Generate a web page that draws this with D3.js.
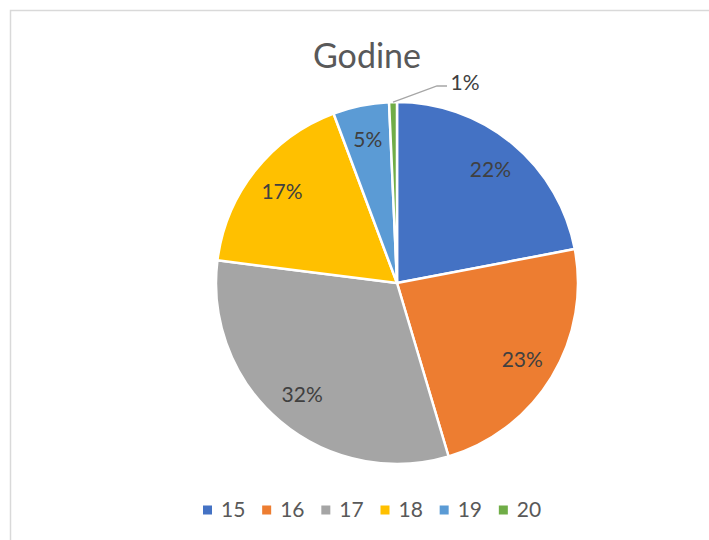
<!DOCTYPE html>
<html>
<head>
<meta charset="utf-8">
<script src="https://cdn.jsdelivr.net/npm/d3@7"></script>
<style>
  body { margin: 0; background: #fff; }
  text { font-family: Lato, "Open Sans", sans-serif; }
</style>
</head>
<body>
<div id="chart"></div>
<script>
var categories = ["15", "16", "17", "18", "19", "20"];
var values = [22.0, 23.4, 31.6, 17.3, 5.0, 0.7];
var colors = ["#4472c4", "#ed7d31", "#a5a5a5", "#ffc000", "#5b9bd5", "#70ad47"];

function init(){
    var w = 709;
    var h = 540;
    var cx = 397, cy = 283, r = 181;

    var svg = d3.select("#chart")
      .append("svg")
      .attr("width", w)
      .attr("height", h);

    // chart area border
    svg.append("rect")
      .attr("x", 10.5).attr("y", 10.5)
      .attr("width", w + 10).attr("height", h + 10)
      .attr("fill", "#fff")
      .attr("stroke", "#d9d9d9")
      .attr("stroke-width", 1.5);

    svg.append("text")
      .attr("x", 367).attr("y", 68)
      .attr("text-anchor", "middle")
      .attr("font-size", 34)
      .attr("fill", "#595959")
      .text("Godine");

    var total = d3.sum(values);
    var pie = d3.pie().sort(null).value(function(d){ return d; });
    var arcs = pie(values);

    var arc = d3.arc().innerRadius(0).outerRadius(r);
    var labelArc = d3.arc().innerRadius(r * 0.81).outerRadius(r * 0.81);

    var g = svg.append("g").attr("transform", "translate(" + cx + "," + cy + ")");

    g.selectAll("path")
      .data(arcs)
      .enter()
      .append("path")
      .attr("d", arc)
      .attr("fill", function(d, i){ return colors[i]; })
      .attr("stroke", "#fff")
      .attr("stroke-width", 2.5)
      .attr("stroke-linejoin", "round");

    var fmt = function(v){ return Math.round(v / total * 100) + "%"; };

    // labels inside the slices
    g.selectAll("text.lbl")
      .data(arcs.filter(function(d){ return d.value / total >= 0.02; }))
      .enter()
      .append("text")
      .attr("class", "lbl")
      .attr("transform", function(d){ return "translate(" + labelArc.centroid(d) + ")"; })
      .attr("text-anchor", "middle")
      .attr("dy", "0.35em")
      .attr("font-size", 21)
      .attr("fill", "#404040")
      .text(function(d){ return fmt(d.value); });

    // small slice: label outside with leader line
    var small = arcs.filter(function(d){ return d.value / total < 0.02; });
    small.forEach(function(d){
      var mid = (d.startAngle + d.endAngle) / 2;
      var p0 = [Math.sin(mid) * r, -Math.cos(mid) * r];
      var p1 = [40, -197];
      var p2 = [50, -197];
      g.append("polyline")
        .attr("points", [p0, p1, p2].map(function(p){ return p.join(","); }).join(" "))
        .attr("fill", "none")
        .attr("stroke", "#a6a6a6")
        .attr("stroke-width", 1.3);
      g.append("text")
        .attr("x", p2[0] + 18).attr("y", p2[1] - 3)
        .attr("text-anchor", "middle")
        .attr("dy", "0.35em")
        .attr("font-size", 21)
        .attr("fill", "#404040")
        .text(fmt(d.value));
    });

    // legend
    var legendX = d3.scaleBand()
      .domain(categories)
      .range([203, 558]);

    var leg = svg.append("g").selectAll("g")
      .data(categories)
      .enter()
      .append("g")
      .attr("transform", function(d){ return "translate(" + legendX(d) + ",510)"; });

    leg.append("rect")
      .attr("x", 0).attr("y", -4.5)
      .attr("width", 9).attr("height", 9)
      .attr("fill", function(d, i){ return colors[i]; });

    leg.append("text")
      .attr("x", 18)
      .attr("dy", "0.35em")
      .attr("font-size", 21)
      .attr("fill", "#595959")
      .text(function(d){ return d; });
}

window.onload = init;
</script>
</body>
</html>
